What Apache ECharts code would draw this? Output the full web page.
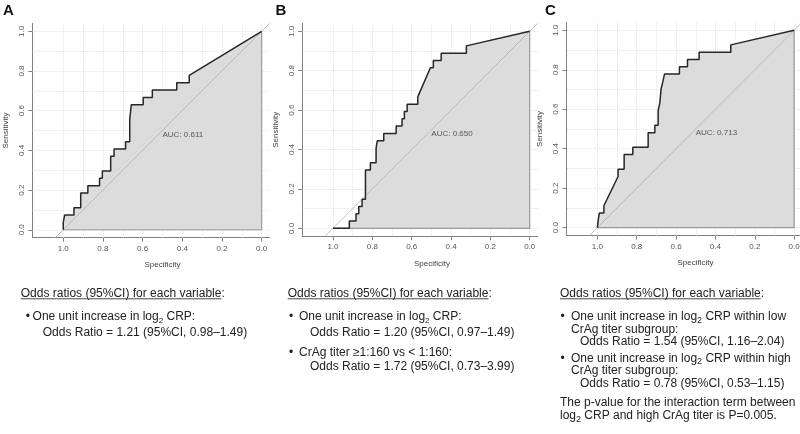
<!DOCTYPE html>
<html><head><meta charset="utf-8">
<script src="https://cdn.jsdelivr.net/npm/echarts@6/dist/echarts.min.js"></script>
<style>html,body{margin:0;padding:0;background:#fff}#c{width:800px;height:434px}</style>
</head><body><div id="c"></div>
<script>
// ---------- data ----------
const panelLetters = ['A', 'B', 'C'];
const specA = [1,1,0.993,0.993,0.946,0.946,0.912,0.912,0.876,0.876,0.817,0.817,0.803,0.803,0.761,0.761,0.744,0.744,0.686,0.686,0.665,0.665,0.657,0.657,0.597,0.597,0.551,0.551,0.428,0.428,0.365,0.365,0];
const sensA = [0,0.037,0.037,0.074,0.074,0.111,0.111,0.185,0.185,0.222,0.222,0.259,0.259,0.296,0.296,0.370,0.370,0.407,0.407,0.444,0.444,0.556,0.556,0.630,0.630,0.667,0.667,0.704,0.704,0.741,0.741,0.778,1];
const specB = [1,0.917,0.917,0.883,0.883,0.869,0.869,0.852,0.852,0.835,0.835,0.81,0.81,0.781,0.781,0.775,0.775,0.742,0.742,0.679,0.679,0.649,0.649,0.637,0.637,0.623,0.623,0.569,0.569,0.505,0.49,0.49,0.45,0.45,0.322,0.322,0];
const sensB = [0,0,0.037,0.037,0.074,0.074,0.111,0.111,0.148,0.148,0.296,0.296,0.333,0.333,0.407,0.407,0.444,0.444,0.481,0.481,0.519,0.519,0.556,0.556,0.593,0.593,0.630,0.630,0.667,0.815,0.815,0.852,0.852,0.889,0.889,0.926,1];
const specC = [1,0.996,0.996,0.99,0.99,0.967,0.967,0.895,0.895,0.864,0.864,0.82,0.82,0.742,0.742,0.708,0.708,0.691,0.691,0.683,0.683,0.676,0.676,0.667,0.667,0.659,0.659,0.583,0.583,0.542,0.542,0.483,0.483,0.322,0.322,0];
const sensC = [0,0,0.037,0.037,0.074,0.074,0.111,0.259,0.296,0.296,0.370,0.370,0.407,0.407,0.481,0.481,0.519,0.519,0.593,0.593,0.630,0.630,0.704,0.704,0.741,0.741,0.778,0.778,0.815,0.815,0.852,0.852,0.889,0.889,0.926,1];
const aucValues = ['0.611', '0.650', '0.713'];
const aucPos = [0.5, 0.5];
const axisTickValues = [0, 0.2, 0.4, 0.6, 0.8, 1.0];
const gridValues = [0, 0.1, 0.2, 0.3, 0.4, 0.5, 0.6, 0.7, 0.8, 0.9, 1.0];
const identityLine = [[1.04, -0.04], [-0.04, 1.04]];
const polyBorder = [[1, 0], [0, 0], [0, 1]];
const xTitle = 'Specificity';
const yTitle = 'Sensitivity';
const header = 'Odds ratios (95%CI) for each variable';

const textA = [
  ['b', 'One unit increase in log{s|2} CRP:'],
  ['i', 'Odds Ratio = 1.21 (95%CI, 0.98–1.49)']
];
const textB = [
  ['b', 'One unit increase in log{s|2} CRP:'],
  ['i', 'Odds Ratio = 1.20 (95%CI, 0.97–1.49)'],
  ['b', 'CrAg titer ≥1:160 vs < 1:160:'],
  ['i', 'Odds Ratio = 1.72 (95%CI, 0.73–3.99)']
];
const textC = [
  ['b', 'One unit increase in log{c|2} CRP within low'],
  ['t', 'CrAg titer subgroup:'],
  ['i', 'Odds Ratio = 1.54 (95%CI, 1.16–2.04)'],
  ['b', 'One unit increase in log{c|2} CRP within high'],
  ['t', 'CrAg titer subgroup:'],
  ['i', 'Odds Ratio = 0.78 (95%CI, 0.53–1.15)'],
  ['p', 'The p-value for the interaction term between'],
  ['p', 'log{c|2} CRP and high CrAg titer is P=0.005.']
];

// ---------- layout ----------
const FONT = '"Liberation Sans", Arial, Helvetica, sans-serif';
const panels = [
  { spec: specA, sens: sensA, grid: {left: 32.3, top: 23.4, width: 237.3, height: 214.3},
    letterX: 3, yTitleX: 6, xTitleX: 162.5, xTitleY: 265,
    hdrX: 20.7, bulletX: 25.8, textX: 32.6, indentX: 42.7, lines: textA,
    ys: [316.7, 332.3] },
  { spec: specB, sens: sensB, grid: {left: 302.3, top: 23.4, width: 235.3, height: 212.8},
    letterX: 275.5, yTitleX: 276, xTitleX: 432, xTitleY: 263.5,
    hdrX: 287.7, bulletX: 289, textX: 299, indentX: 310, lines: textB,
    ys: [316.7, 332.3, 352.3, 366.7] },
  { spec: specC, sens: sensC, grid: {left: 566.7, top: 22.4, width: 235.3, height: 213.1},
    letterX: 545, yTitleX: 540, xTitleX: 695.5, xTitleY: 262.5,
    hdrX: 560, bulletX: 560.5, textX: 571, indentX: 580, lines: textC,
    ys: [316.7, 330, 341.7, 358.3, 370.7, 383.3, 402.7, 415.7] }
];

const ctx = document.createElement('canvas').getContext('2d');
ctx.font = '12px ' + FONT;
const hdrW = ctx.measureText(header).width;

const grids = [], xAxes = [], yAxes = [], series = [], graphics = [];
const axisCol = '#808080';
panels.forEach((p, i) => {
  grids.push(Object.assign({containLabel: false, outerBoundsMode: 'none'}, p.grid));
  xAxes.push({
    gridIndex: i, type: 'value', inverse: true, min: -0.04, max: 1.156,
    axisLine: {show: true, onZero: false, lineStyle: {color: axisCol, width: 1}},
    axisTick: {show: true, length: 4, customValues: axisTickValues, lineStyle: {color: axisCol}},
    axisLabel: {show: true, customValues: axisTickValues, margin: 7, fontSize: 8, fontFamily: FONT,
      color: '#555', formatter: v => v.toFixed(1)},
    splitLine: {show: false}
  });
  yAxes.push({
    gridIndex: i, type: 'value', min: -0.04, max: 1.04,
    axisLine: {show: true, onZero: false, lineStyle: {color: axisCol, width: 1}},
    axisTick: {show: true, length: 4, customValues: axisTickValues, lineStyle: {color: axisCol}},
    axisLabel: {show: true, customValues: axisTickValues, rotate: 90, margin: 7, fontSize: 8, fontFamily: FONT,
      color: '#555', formatter: v => v.toFixed(1)},
    splitLine: {show: false}
  });
  const pts = p.spec.map((s, k) => [s, p.sens[k]]);
  // grid lines (drawn beneath the AUC polygon)
  series.push({
    type: 'line', xAxisIndex: i, yAxisIndex: i, data: [], z: 1, silent: true,
    markLine: {
      z: 1, silent: true, symbol: ['none', 'none'], label: {show: false}, animation: false,
      lineStyle: {color: '#e3e3e3', type: 'dotted', width: 1},
      data: gridValues.map(v => ({xAxis: v})).concat(gridValues.map(v => ({yAxis: v})))
    }
  });
  // AUC polygon fill
  series.push({
    type: 'line', xAxisIndex: i, yAxisIndex: i, data: pts, z: 2, symbol: 'none', silent: true,
    lineStyle: {width: 0, opacity: 0},
    areaStyle: {color: '#dcdcdc', opacity: 1, origin: 0}, animation: false
  });
  // polygon border
  series.push({
    type: 'line', xAxisIndex: i, yAxisIndex: i, data: polyBorder, z: 3, symbol: 'none', silent: true,
    lineStyle: {color: '#999999', width: 1.2}, animation: false
  });
  // identity line
  series.push({
    type: 'line', xAxisIndex: i, yAxisIndex: i, data: identityLine, z: 4, symbol: 'none', silent: true,
    lineStyle: {color: '#b0b0b0', width: 0.8}, animation: false
  });
  // ROC curve
  series.push({
    type: 'line', xAxisIndex: i, yAxisIndex: i, data: pts, z: 5, symbol: 'none', silent: true,
    lineStyle: {color: '#262626', width: 1.5}, animation: false
  });
  // AUC label
  series.push({
    type: 'scatter', xAxisIndex: i, yAxisIndex: i, data: [aucPos], z: 6, symbolSize: 0, silent: true,
    label: {show: true, position: [0, 0], align: 'left', verticalAlign: 'top',
      formatter: 'AUC: ' + aucValues[i], fontSize: 8, fontFamily: FONT, color: '#333'},
    animation: false
  });

  // panel letter
  graphics.push({type: 'text', x: p.letterX, y: 10.5, style: {text: panelLetters[i], fontSize: 15, fontWeight: 'bold',
    fontFamily: FONT, fill: '#111', verticalAlign: 'middle', align: 'left'}});
  // axis titles
  graphics.push({type: 'text', x: p.xTitleX, y: p.xTitleY, style: {text: xTitle, fontSize: 8, fontFamily: FONT,
    fill: '#444', verticalAlign: 'middle', align: 'center'}});
  graphics.push({type: 'text', x: p.yTitleX, y: p.grid.top + p.grid.height / 2, rotation: Math.PI / 2,
    style: {text: yTitle, fontSize: 8, fontFamily: FONT, fill: '#444', verticalAlign: 'middle', align: 'center'}});
  // header with underline
  graphics.push({type: 'text', x: p.hdrX, y: 293.3, style: {text: header + ':', fontSize: 12, fontFamily: FONT,
    fill: '#222', verticalAlign: 'middle', align: 'left'}});
  graphics.push({type: 'line', shape: {x1: p.hdrX, y1: 298.8, x2: p.hdrX + hdrW, y2: 298.8},
    style: {stroke: '#333', lineWidth: 0.9}});
  // body lines
  p.lines.forEach((ln, k) => {
    const kind = ln[0], y = p.ys[k];
    let x = p.textX;
    if (kind === 'b') {
      graphics.push({type: 'text', x: p.bulletX, y: y, style: {text: '•', fontSize: 12, fontFamily: FONT,
        fill: '#222', verticalAlign: 'middle', align: 'left'}});
    } else if (kind === 'i') x = p.indentX;
    else if (kind === 'p') x = p.hdrX;
    graphics.push({type: 'text', x: x, y: y, style: {text: ln[1], fontSize: 12, fontFamily: FONT, lineHeight: 16,
      fill: '#222', verticalAlign: 'middle', align: 'left',
      rich: {
        s: {fontSize: 8, lineHeight: 8, verticalAlign: 'bottom', fontFamily: FONT, fill: '#222'},
        c: {fontSize: 9, lineHeight: 12, verticalAlign: 'bottom', fontFamily: FONT, fill: '#222'}
      }}});
  });
});

const chart = echarts.init(document.getElementById('c'), null, {renderer: 'canvas'});
chart.setOption({
  backgroundColor: '#fff',
  animation: false,
  grid: grids, xAxis: xAxes, yAxis: yAxes, series: series, graphic: graphics
});
</script>
</body></html>
